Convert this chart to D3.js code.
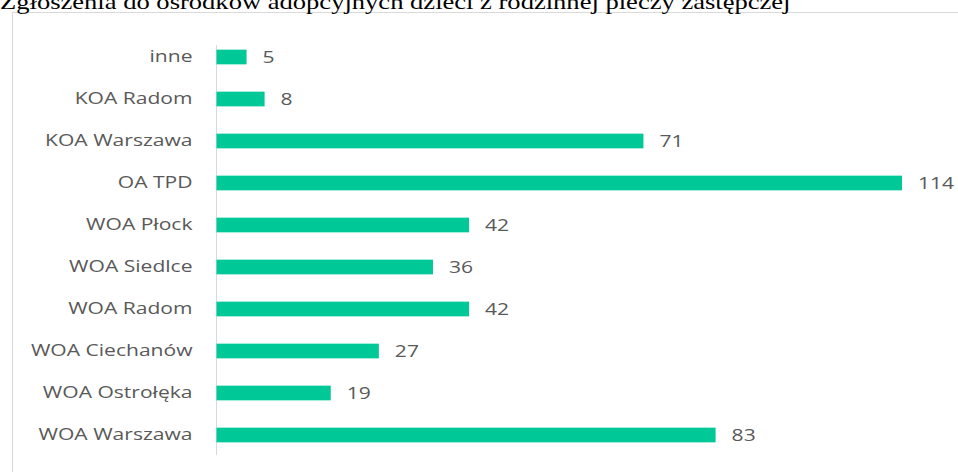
<!DOCTYPE html>
<html><head><meta charset="utf-8">
<script src="https://cdn.jsdelivr.net/npm/d3@7"></script>
<style>body{margin:0;background:#fff;}svg{display:block;}</style>
</head><body>
<svg id="c" width="958" height="472"></svg>
<script>
const categories = ["inne","KOA Radom","KOA Warszawa","OA TPD","WOA Płock","WOA Siedlce","WOA Radom","WOA Ciechanów","WOA Ostrołęka","WOA Warszawa"];
const values = [5,8,71,114,42,36,42,27,19,83];
const title = "Zgłoszenia do ośrodków adopcyjnych dzieci z rodzinnej pieczy zastępczej";

const SX = 1.24; // horizontal stretch seen in the reference
const svg = d3.select("#c");
svg.append("rect").attr("x",12.5).attr("y",12.5).attr("width",1000).attr("height",500)
  .attr("fill","#fff").attr("stroke","#d9d9d9").attr("stroke-width",1);
svg.append("text").attr("transform",`translate(0,9) scale(1.265,1)`).text(title)
  .attr("font-family","'Liberation Serif','Times New Roman',serif").attr("font-size",21).attr("fill","#000");

const x0 = 216.5;
const x = d3.scaleLinear().domain([0,114]).range([x0,902]);
const y = d3.scaleBand().domain(categories).range([36,456]).paddingInner(0.65).paddingOuter(0.325);

svg.append("line").attr("x1",x0).attr("x2",x0).attr("y1",45).attr("y2",455)
  .attr("stroke","#d9d9d9").attr("stroke-width",1);

const yAxis = d3.axisLeft(y).tickSize(0).tickPadding(24);
const ga = svg.append("g").attr("transform",`translate(${x0},0)`).call(yAxis);
ga.select(".domain").remove();
ga.selectAll("text").attr("x",-24/SX).attr("transform",`scale(${SX},1)`)
  .attr("font-family","'Open Sans',sans-serif").attr("font-size",17).attr("fill","#595959");

svg.selectAll("rect.bar").data(values).join("rect").attr("class","bar")
  .attr("x",x(0)).attr("y",(d,i)=>y(categories[i])).attr("height",y.bandwidth())
  .attr("width",d=>x(d)-x(0)).attr("fill","#00c997");

svg.selectAll("text.lbl").data(values).join("text").attr("class","lbl")
  .attr("transform",(d,i)=>`translate(${x(d)+16},${y(categories[i])+y.bandwidth()/2}) scale(${SX},1)`)
  .attr("dy","0.35em")
  .text(d=>d).attr("font-family","'Open Sans',sans-serif").attr("font-size",17).attr("fill","#595959");
</script>
</body></html>
